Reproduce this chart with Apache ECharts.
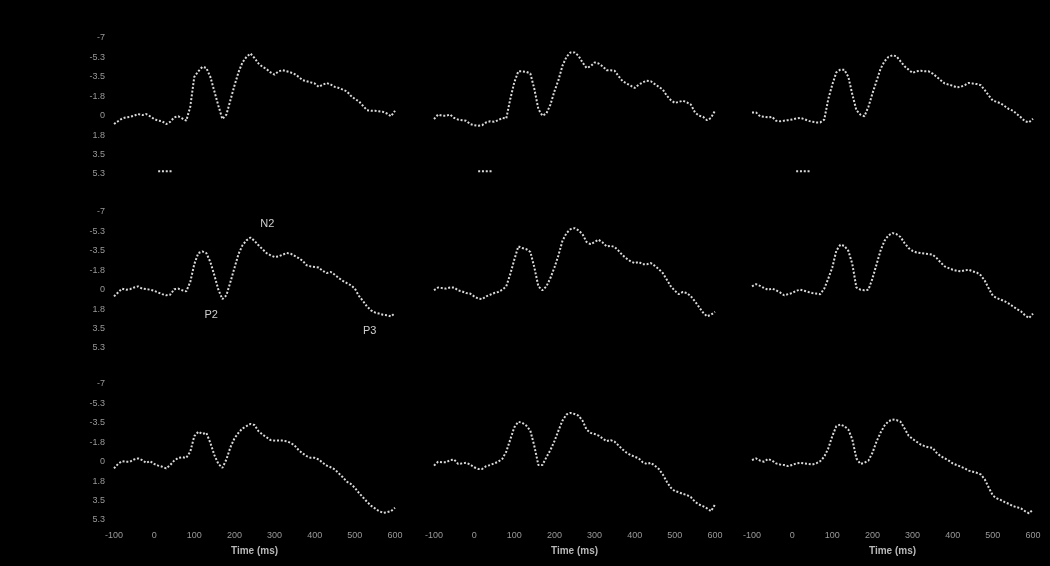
<!DOCTYPE html>
<html>
<head>
<meta charset="utf-8">
<script src="https://cdn.jsdelivr.net/npm/echarts@6/dist/echarts.min.js"></script>
<style>
html,body{margin:0;padding:0;background:#000;}
#chart{width:1050px;height:566px;}
</style>
</head>
<body>
<div id="chart"></div>
<script>
// Time axis (ms)
const times = [-100,-90,-80,-70,-60,-50,-40,-30,-20,-10,
  0,10,20,30,40,50,60,70,80,90,
  100,110,120,130,140,150,160,170,180,190,
  200,210,220,230,240,250,260,270,280,290,
  300,310,320,330,340,350,360,370,380,390,
  400,410,420,430,440,450,460,470,480,490,
  500,510,520,530,540,550,560,570,580,590,
  600];

// Amplitudes (µV) per panel, row-major: top, middle, bottom
const topLeft = [0.75,0.5,0.25,0.15,0.1,0.0,-0.15,-0.05,-0.15,0.05,
  0.3,0.45,0.5,0.75,0.55,0.15,0.05,0.25,0.45,-0.8,
  -3.5,-4.0,-4.4,-4.3,-3.5,-2.2,-0.9,0.3,-0.1,-1.4,
  -2.7,-3.9,-4.8,-5.3,-5.6,-5.2,-4.7,-4.4,-4.2,-3.9,
  -3.7,-4.0,-4.1,-4.0,-3.9,-3.75,-3.5,-3.2,-3.1,-3.0,
  -2.9,-2.6,-2.8,-2.95,-2.8,-2.6,-2.5,-2.35,-2.2,-1.8,
  -1.5,-1.3,-0.9,-0.5,-0.45,-0.45,-0.4,-0.35,-0.2,0.05,
  -0.45];
const topMiddle = [0.3,-0.1,0.0,0.0,-0.1,0.2,0.35,0.4,0.45,0.75,
  0.85,0.9,0.85,0.6,0.5,0.55,0.4,0.2,0.25,-1.5,
  -3.0,-4.0,-4.0,-3.95,-3.8,-2.4,-0.6,0.0,-0.2,-1.0,
  -2.2,-3.2,-4.5,-5.3,-5.7,-5.7,-5.4,-4.8,-4.3,-4.45,
  -4.8,-4.7,-4.45,-4.1,-4.1,-4.05,-3.55,-3.1,-2.9,-2.7,
  -2.5,-2.8,-3.0,-3.15,-3.1,-2.85,-2.6,-2.35,-1.8,-1.4,
  -1.15,-1.25,-1.35,-1.2,-1.0,-0.3,0.0,0.1,0.4,0.2,
  -0.45];
const topRight = [-0.3,-0.3,0.05,0.1,0.15,0.1,0.45,0.5,0.45,0.4,
  0.35,0.25,0.2,0.3,0.45,0.55,0.6,0.6,0.35,-1.5,
  -2.8,-3.9,-4.15,-4.15,-3.5,-1.9,-0.5,-0.1,0.05,-0.8,
  -2.0,-3.1,-4.2,-4.9,-5.3,-5.45,-5.35,-4.9,-4.45,-4.15,
  -3.85,-4.0,-4.05,-4.0,-4.0,-3.8,-3.5,-3.2,-2.9,-2.8,
  -2.7,-2.55,-2.6,-2.75,-2.95,-2.9,-2.85,-2.75,-2.3,-1.8,
  -1.35,-1.25,-1.1,-0.85,-0.6,-0.45,-0.15,0.15,0.5,0.6,
  0.27];
const midLeft = [0.6,0.25,-0.1,0.0,-0.05,-0.2,-0.3,-0.1,-0.05,0.0,
  0.1,0.25,0.4,0.5,0.45,-0.05,-0.1,0.05,0.15,-0.7,
  -2.3,-3.3,-3.45,-3.3,-2.5,-1.3,0.0,0.85,0.5,-0.7,
  -1.95,-3.2,-4.0,-4.45,-4.7,-4.4,-4.0,-3.65,-3.3,-3.1,
  -2.95,-3.0,-3.15,-3.3,-3.25,-3.05,-2.85,-2.6,-2.2,-2.1,
  -2.05,-2.0,-1.7,-1.5,-1.6,-1.35,-1.05,-0.8,-0.6,-0.4,
  -0.1,0.55,1.0,1.5,1.85,2.05,2.15,2.25,2.3,2.4,
  2.1];
const midMiddle = [0.05,-0.2,-0.15,-0.1,-0.2,-0.2,0.05,0.15,0.3,0.35,
  0.6,0.8,0.85,0.6,0.45,0.3,0.2,0.0,-0.3,-1.4,
  -2.7,-3.9,-3.75,-3.65,-3.4,-2.0,-0.3,0.05,-0.3,-1.05,
  -2.0,-3.1,-4.4,-5.1,-5.45,-5.55,-5.35,-5.0,-4.3,-4.1,
  -4.3,-4.5,-4.25,-3.9,-3.95,-3.85,-3.5,-3.1,-2.8,-2.55,
  -2.4,-2.5,-2.3,-2.3,-2.4,-2.15,-1.85,-1.5,-0.9,-0.3,
  0.1,0.4,0.2,0.3,0.6,1.05,1.55,2.05,2.4,2.25,
  2.0];
const midRight = [-0.3,-0.5,-0.35,-0.15,0.0,-0.1,0.05,0.25,0.5,0.4,
  0.3,0.1,0.0,0.1,0.2,0.3,0.35,0.4,-0.1,-1.0,
  -2.0,-3.5,-4.05,-3.95,-3.5,-2.3,-0.2,0.0,0.05,0.0,
  -1.0,-2.25,-3.5,-4.4,-4.9,-5.1,-5.0,-4.75,-4.2,-3.75,
  -3.5,-3.35,-3.3,-3.25,-3.2,-3.15,-2.85,-2.45,-2.1,-1.95,
  -1.8,-1.7,-1.65,-1.75,-1.8,-1.65,-1.55,-1.3,-0.8,-0.1,
  0.55,0.75,0.9,1.05,1.25,1.5,1.75,1.95,2.3,2.55,
  2.15];
const botLeft = [0.6,0.2,-0.05,0.0,0.0,-0.2,-0.3,-0.15,0.1,-0.05,
  0.2,0.35,0.45,0.6,0.3,-0.1,-0.35,-0.4,-0.35,-0.9,
  -2.3,-2.7,-2.5,-2.6,-1.7,-0.6,0.2,0.55,-0.2,-1.3,
  -2.1,-2.6,-3.0,-3.2,-3.4,-3.3,-2.75,-2.45,-2.2,-1.95,
  -1.9,-1.9,-1.9,-1.85,-1.7,-1.45,-1.05,-0.75,-0.5,-0.35,
  -0.35,-0.2,0.1,0.35,0.5,0.7,1.05,1.4,1.8,2.0,
  2.35,2.8,3.2,3.6,3.95,4.2,4.45,4.6,4.55,4.45,
  4.15];
const botMiddle = [0.35,0.0,0.05,0.05,-0.15,-0.2,0.2,0.15,0.1,0.25,
  0.5,0.65,0.65,0.4,0.3,0.15,0.0,-0.25,-0.9,-2.0,
  -3.1,-3.6,-3.5,-3.25,-2.8,-1.4,0.3,0.3,-0.4,-1.05,
  -1.85,-2.8,-3.7,-4.25,-4.4,-4.3,-4.15,-3.7,-2.9,-2.6,
  -2.5,-2.35,-2.1,-1.85,-1.95,-1.8,-1.45,-1.1,-0.8,-0.6,
  -0.45,-0.3,0.05,0.2,0.1,0.35,0.65,1.15,1.8,2.35,
  2.65,2.75,2.9,3.0,3.2,3.6,3.85,4.0,4.2,4.45,
  3.85];
const botRight = [-0.15,-0.3,-0.1,0.0,-0.25,-0.1,0.15,0.25,0.3,0.4,
  0.3,0.15,0.1,0.15,0.2,0.25,0.15,-0.05,-0.45,-1.2,
  -2.3,-3.2,-3.35,-3.2,-2.9,-2.0,-0.3,0.2,0.1,-0.1,
  -0.8,-1.8,-2.6,-3.25,-3.65,-3.8,-3.75,-3.6,-3.0,-2.35,
  -2.05,-1.8,-1.55,-1.4,-1.3,-1.25,-0.8,-0.5,-0.3,-0.1,
  0.15,0.3,0.45,0.6,0.8,0.9,1.0,1.15,1.6,2.35,
  3.05,3.3,3.45,3.65,3.8,4.0,4.1,4.2,4.45,4.65,
  4.3];

// Stimulus marker shown in the top row
const stimTimes = [10, 45];
const stimLevel = 5.0;

// Component annotations (middle-left panel)
const annoNames = ['N2', 'P2', 'P3'];
const annoTimes = [282, 142, 537];
const annoValues = [-5.9, 2.25, 3.75];

// Axis ticks
const xTicks = [-100, 0, 100, 200, 300, 400, 500, 600];
const yMin = -7, yMax = 5.25, yStep = 1.75;
const xName = 'Time (ms)';

const panels = [topLeft, topMiddle, topRight, midLeft, midMiddle, midRight, botLeft, botMiddle, botRight];

const colLefts = [114, 434, 752];
const rowTops = [38, 212, 384];
const gW = 281, gH = 136;
const lineColor = '#d9d9d9';
const labelColor = '#999999';
const fontFam = '"Liberation Sans", Arial, sans-serif';

const grids = [], xAxes = [], yAxes = [], series = [];
for (let r = 0; r < 3; r++) {
  for (let c = 0; c < 3; c++) {
    const i = r * 3 + c;
    grids.push({left: colLefts[c], top: rowTops[r], width: gW, height: gH, containLabel: false});
    xAxes.push({
      type: 'value', gridIndex: i, min: xTicks[0], max: xTicks[xTicks.length - 1], interval: 100,
      axisLine: {show: false}, axisTick: {show: false}, splitLine: {show: false},
      axisLabel: {show: r === 2, color: labelColor, fontSize: 9, fontFamily: fontFam, margin: 11},
      name: r === 2 ? xName : '', nameLocation: 'middle', nameGap: 26,
      nameTextStyle: {color: '#b8b8b8', fontSize: 10, fontWeight: 'bold', fontFamily: fontFam}
    });
    yAxes.push({
      type: 'value', gridIndex: i, inverse: true, min: yMin, max: yMax, interval: yStep,
      axisLine: {show: false}, axisTick: {show: false}, splitLine: {show: false},
      axisLabel: {show: c === 0, color: labelColor, fontSize: 9, fontFamily: fontFam, margin: 9,
        formatter: v => Number.isInteger(v) ? String(v) : v.toFixed(1)}
    });
    const s = {
      type: 'line', xAxisIndex: i, yAxisIndex: i,
      data: times.map((t, k) => [t, panels[i][k]]),
      showSymbol: false, smooth: false, silent: true, animation: false,
      lineStyle: {color: lineColor, width: 2, type: [2, 1.8], cap: 'butt'}
    };
    if (i === 3) {
      s.markPoint = {
        symbol: 'circle', symbolSize: 1, silent: true, animation: false,
        itemStyle: {color: 'rgba(0,0,0,0)'},
        label: {show: true, position: 'inside', formatter: p => p.name, color: '#cfcfcf', fontSize: 11, fontFamily: fontFam},
        data: annoNames.map((n, k) => ({name: n, coord: [annoTimes[k], annoValues[k]]}))
      };
    }
    series.push(s);
    if (r === 0) {
      series.push({
        type: 'line', xAxisIndex: i, yAxisIndex: i,
        data: stimTimes.map(t => [t, stimLevel]),
        showSymbol: false, silent: true, animation: false,
        lineStyle: {color: lineColor, width: 2, type: [2, 1.8], cap: 'butt'}
      });
    }
  }
}

const chart = echarts.init(document.getElementById('chart'), null, {renderer: 'canvas'});
chart.setOption({
  backgroundColor: '#000',
  animation: false,
  grid: grids, xAxis: xAxes, yAxis: yAxes, series: series
});
</script>
</body>
</html>
